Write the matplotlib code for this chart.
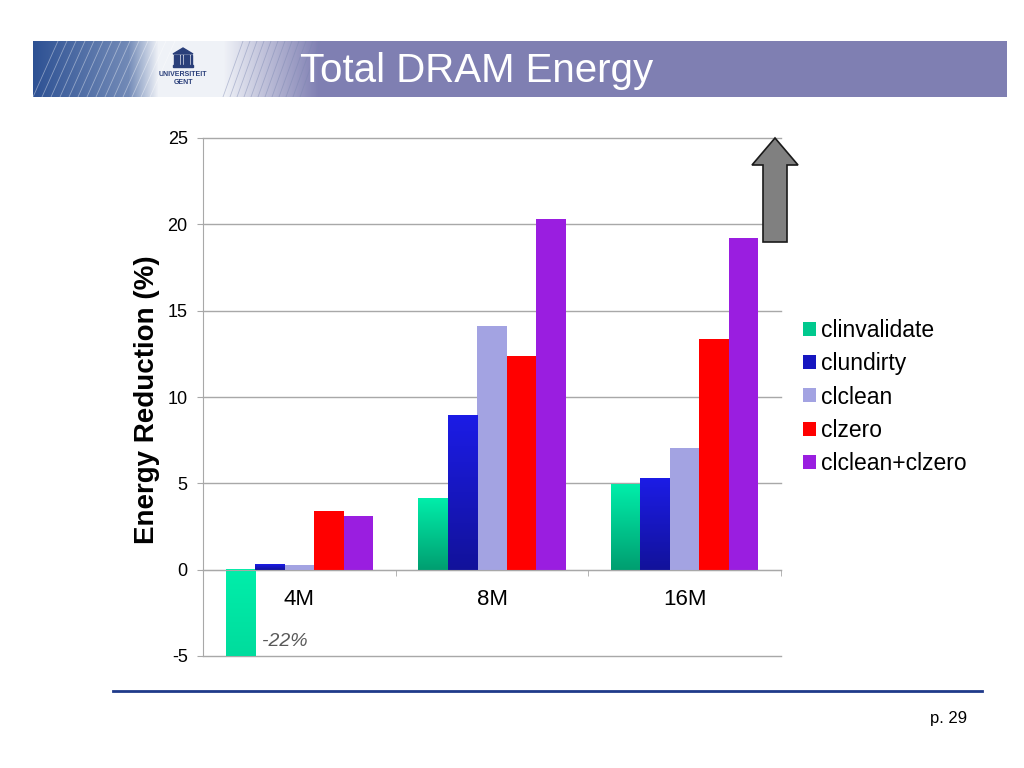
import numpy as np
import matplotlib
matplotlib.use('Agg')
import matplotlib.pyplot as plt
from matplotlib.patches import Polygon, Rectangle
from matplotlib.lines import Line2D
from matplotlib.colors import LinearSegmentedColormap

# ---------------- data ----------------
categories = ['4M', '8M', '16M']
series_names = ['clinvalidate', 'clundirty', 'clclean', 'clzero', 'clclean+clzero']
clinvalidate = [-22.0, 4.15, 4.95]
clundirty = [0.3, 8.95, 5.3]
clclean = [0.25, 14.1, 7.05]
clzero = [3.4, 12.35, 13.35]
clclean_clzero = [3.1, 20.3, 19.2]
yticks = [-5, 0, 5, 10, 15, 20, 25]
y_label = 'Energy Reduction (%)'
title = 'Total DRAM Energy'
note = '-22%'
page = 'p. 29'

series_values = [clinvalidate, clundirty, clclean, clzero, clclean_clzero]
# (top colour, bottom colour) -- equal for flat fills
series_colors = [('#00eeaa', '#009e70'),
                 ('#1c1ce6', '#12129a'),
                 ('#a3a3e2', '#a3a3e2'),
                 ('#ff0000', '#ff0000'),
                 ('#9a1ee0', '#9a1ee0')]

plt.rcParams['font.family'] = ['Liberation Sans', 'DejaVu Sans']

fig = plt.figure(figsize=(10.24, 7.68), dpi=100)
fig.patch.set_facecolor('white')


def fx(px):
    return px / 1024.0


def fy(py):
    return 1 - py / 768.0


# ---------------- header band ----------------
hx0, hx1, hy0, hy1 = 33, 1007, 41, 97
hax = fig.add_axes([fx(hx0), fy(hy1), fx(hx1) - fx(hx0), fy(hy0) - fy(hy1)])
W, H = hx1 - hx0, hy1 - hy0
dark = np.array([0.18, 0.32, 0.58])
white = np.array([0.94, 0.95, 0.97])
purple = np.array([0.50, 0.50, 0.70])
img = np.zeros((H, W, 3))
for c in range(W):
    if c < 95:
        col = dark + (white - dark) * (c / 95.0) * 0.35
    elif c < 125:
        t = (c - 95) / 30.0
        col = (dark + (white - dark) * 0.35) * (1 - t) + white * t
    elif c < 190:
        col = white
    elif c < 285:
        t = (c - 190) / 95.0
        col = white * (1 - t) + purple * t
    else:
        col = purple
    img[:, c, :] = col
hax.imshow(img, extent=[0, W, H, 0], aspect='auto', interpolation='bilinear')
# decorative diagonal streaks
for k in range(0, 120, 9):
    hax.plot([k, k + 25], [H, 0], color='white', lw=0.6, alpha=0.4)
for k in range(190, 270, 7):
    hax.plot([k, k + 20], [H, 0], color='#7a86b0', lw=0.6, alpha=0.45)
# logo
lx = 150
hax.add_patch(Polygon([[lx - 10, 13], [lx, 7], [lx + 10, 13]], closed=True,
                      color='#2a3f7a'))
for i in range(6):
    hax.add_patch(Rectangle((lx - 9 + i * 3.3, 14), 1.8, 10, color='#2a3f7a'))
hax.add_patch(Rectangle((lx - 10, 24), 20, 2, color='#2a3f7a'))
hax.text(lx, 33, 'UNIVERSITEIT', ha='center', va='center', fontsize=5,
         color='#2a3f7a', fontweight='bold')
hax.text(lx, 41, 'GENT', ha='center', va='center', fontsize=5,
         color='#2a3f7a', fontweight='bold')
hax.text(300 - hx0, H / 2 + 2, title, ha='left', va='center', fontsize=29,
         color='white')
hax.set_xlim(0, W)
hax.set_ylim(H, 0)
hax.axis('off')

# ---------------- main chart ----------------
ax = fig.add_axes([fx(203), fy(656), fx(781) - fx(203), fy(138) - fy(656)])
ymin, ymax = yticks[0], yticks[-1]
x = np.arange(len(categories))
w = 0.153
for i, (name, vals, (ctop, cbot)) in enumerate(zip(series_names, series_values, series_colors)):
    bars = ax.bar(x + (i - 2) * w, vals, width=w, color=ctop,
                  label=name, zorder=3, linewidth=0)
    if ctop != cbot:
        cmap = LinearSegmentedColormap.from_list('g%d' % i, [cbot, ctop])
        for rect in bars:
            x0 = rect.get_x()
            yb = min(rect.get_y(), rect.get_y() + rect.get_height())
            yt = max(rect.get_y(), rect.get_y() + rect.get_height())
            vb, vt = max(yb, ymin), min(yt, ymax)
            g0 = (vt - yb) / (yt - yb)
            g1 = (vb - yb) / (yt - yb)
            grad = np.linspace(g0, g1, 256).reshape(-1, 1)
            ax.imshow(grad, extent=[x0, x0 + w, vb, vt], origin='upper',
                      cmap=cmap, vmin=0, vmax=1, aspect='auto', zorder=3.5)

ax.set_xlim(-0.5, len(categories) - 0.5)
ax.set_ylim(ymin, ymax)
ax.set_yticks(yticks)
ax.set_yticklabels([str(v) for v in yticks])
ax.set_xticks(x)
ax.set_xticklabels(categories)
ax.set_xticks(list(x + 0.5), minor=True)
ax.grid(axis='y', color='#a8a8a8', linewidth=1, zorder=0)
for gl in ax.get_ygridlines():
    gl.set_clip_on(False)
ax.set_axisbelow(True)
for s in ['top', 'right']:
    ax.spines[s].set_visible(False)
ax.spines['left'].set_color('#a8a8a8')
ax.spines['bottom'].set_color('#a8a8a8')
ax.spines['bottom'].set_position(('data', 0))
ax.spines['bottom'].set_zorder(4)
ax.tick_params(axis='y', length=4, color='#a8a8a8', pad=7, labelsize=13)
ax.tick_params(axis='x', which='major', length=0, pad=14, labelsize=16)
ax.tick_params(axis='x', which='minor', length=4.5, color='#a8a8a8', direction='out')

fig.text(fx(147), fy(400), y_label, rotation=90, ha='center', va='center',
         fontsize=20, fontweight='bold')
fig.text(fx(285), fy(641), note, ha='center', va='center', fontsize=14,
         style='italic', color='#595959')

handles = [Rectangle((0, 0), 1, 1, facecolor=c[0], edgecolor='none') for c in series_colors]
handles[0].set_facecolor('#00c98e')
handles[1].set_facecolor('#1616c0')
fig.legend(handles, series_names, loc='center left', bbox_to_anchor=(fx(803), fy(397)),
           frameon=False, fontsize=16.5, handlelength=0.55, handleheight=0.55,
           handletextpad=0.25, labelspacing=0.45, borderpad=0, borderaxespad=0)

# ---------------- arrow ----------------
arrow_pts = [(775, 138), (798, 165), (787, 165), (787, 242), (763, 242),
             (763, 165), (752, 165)]
fig.patches.append(Polygon([(fx(px), fy(py)) for px, py in arrow_pts], closed=True,
                           facecolor='#808080', edgecolor='#1a1a1a', linewidth=1.2,
                           transform=fig.transFigure, figure=fig, zorder=10))

# ---------------- footer ----------------
fig.add_artist(Line2D([fx(113), fx(982)], [fy(691), fy(691)], color='#1f3a8a', lw=2))
fig.text(fx(949), fy(718), page, ha='center', va='center', fontsize=12)

fig.savefig('out.png', dpi=100, facecolor='white')
